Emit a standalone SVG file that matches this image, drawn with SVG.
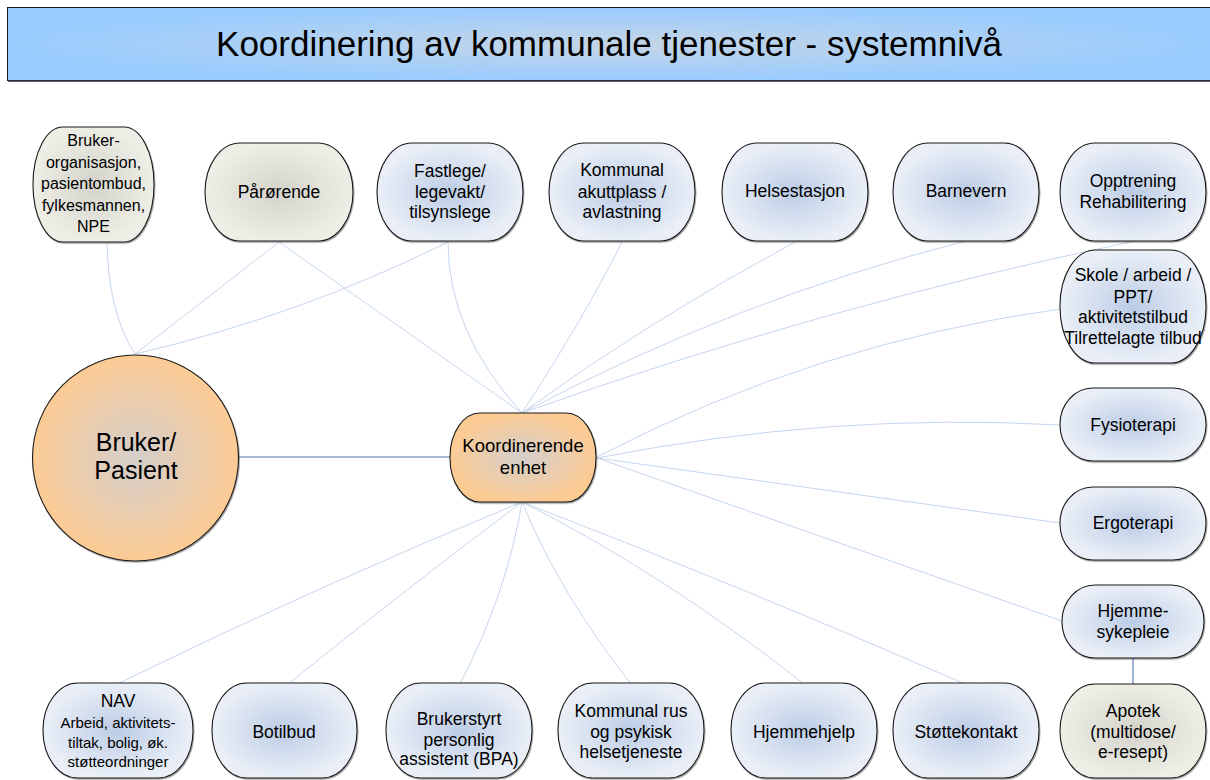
<svg xmlns="http://www.w3.org/2000/svg" width="1210" height="780" viewBox="0 0 1210 780">
  <defs>
    <radialGradient id="gBlue" cx="0.5" cy="0.5" r="0.5">
      <stop offset="0" stop-color="#bccce6"/>
      <stop offset="1" stop-color="#eaeff7"/>
    </radialGradient>
    <radialGradient id="gBeige" cx="0.5" cy="0.5" r="0.5">
      <stop offset="0" stop-color="#d3d3cc"/>
      <stop offset="1" stop-color="#eeeee6"/>
    </radialGradient>
    <radialGradient id="gOrange" cx="0.5" cy="0.5" r="0.5">
      <stop offset="0" stop-color="#d4cfcc"/>
      <stop offset="1" stop-color="#fccb94"/>
    </radialGradient>
    <radialGradient id="gTitle" cx="0.5" cy="0.5" r="0.5">
      <stop offset="0" stop-color="#c5d5e6"/>
      <stop offset="1" stop-color="#99ccff"/>
    </radialGradient>
    <filter id="shade" x="-5%" y="-5%" width="112%" height="115%">
      <feDropShadow dx="0.8" dy="1.2" stdDeviation="0.4" flood-color="#555" flood-opacity="0.6"/>
    </filter>
  </defs>
  <style>
    text { font-family: "Liberation Sans", Arial, sans-serif; fill: #000; text-anchor: middle; }
    .t { font-size: 17.5px; }
    .s { font-size: 15px; }
    .big { font-size: 25px; }
    .k { font-size: 18.5px; }
    .org { font-size: 16px; }
    .title { font-size: 35px; }
    .node { stroke: #1a1a1a; stroke-width: 1.1; filter: url(#shade); }
    .blue { fill: url(#gBlue); }
    .beige { fill: url(#gBeige); }
    .orange { fill: url(#gOrange); }
    .link { fill: none; stroke: #c6d6ee; stroke-width: 1; }
    .main { fill: none; stroke: #4f73b6; stroke-width: 1.1; }
  </style>

  <!-- title banner -->
  <g id="title">
    <rect x="7.5" y="7.5" width="1210" height="73" fill="url(#gTitle)" stroke="#1a1a1a" stroke-width="1"/>
    <line x1="8" y1="81" x2="1210" y2="81" stroke="#2a3340" stroke-width="1.5"/>
    <text class="title" x="609" y="56">Koordinering av kommunale tjenester - systemnivå</text>
  </g>

  <!-- connectors -->
  <g id="connectors">
    <!-- to Bruker/Pasient -->
    <path class="link" d="M107,242 Q108,312 135,354"/>
    <path class="link" d="M279,242 L135,354"/>
    <path class="link" d="M448,242 Q299,316 135,354"/>
    <!-- top row to Koordinerende enhet -->
    <path class="link" d="M279,242 L522,413"/>
    <path class="link" d="M448,242 Q448,332 522,413"/>
    <path class="link" d="M622,242 Q584,318 522,413"/>
    <path class="link" d="M795,242 Q650,320 522,413"/>
    <path class="link" d="M966,241 Q734,300 522,413"/>
    <path class="link" d="M1135,241 Q822,306 522,413"/>
    <!-- right column -->
    <path class="link" d="M1060,309 Q815,343 597,457"/>
    <path class="link" d="M1060,425 Q832,412 597,458"/>
    <path class="link" d="M1060,523 L597,458"/>
    <path class="link" d="M1062,621 L597,458"/>
    <!-- bottom row -->
    <path class="link" d="M522,502 Q320,585 117,684"/>
    <path class="link" d="M522,502 Q410,586 288,684"/>
    <path class="link" d="M522,502 Q507,593 460,684"/>
    <path class="link" d="M522,502 Q560,594 631,684"/>
    <path class="link" d="M522,502 Q663,573 804,684"/>
    <path class="link" d="M522,502 Q745,588 965,684"/>
    <!-- direct links -->
    <line class="main" x1="239" y1="457" x2="450" y2="457"/>
    <line class="main" x1="1133" y1="658" x2="1133" y2="684"/>
  </g>

  <!-- centre -->
  <g id="bruker-pasient">
    <ellipse class="node orange" cx="135.5" cy="458" rx="103" ry="103"/>
    <text class="big" x="136" y="451">Bruker/</text>
    <text class="big" x="136" y="479">Pasient</text>
  </g>
  <g id="koordinerende-enhet">
    <rect class="node orange" x="450" y="413" width="146" height="89" rx="30" ry="44"/>
    <text class="k" x="523" y="452">Koordinerende</text>
    <text class="k" x="523" y="474">enhet</text>
  </g>

  <!-- top row -->
  <g id="brukerorganisasjon">
    <rect class="node beige" x="33" y="127" width="121" height="115" rx="30" ry="57"/>
    <text class="org" x="93.5" y="146">Bruker-</text>
    <text class="org" x="93.5" y="167.5">organisasjon,</text>
    <text class="org" x="93.5" y="189">pasientombud,</text>
    <text class="org" x="93.5" y="210.5">fylkesmannen,</text>
    <text class="org" x="93.5" y="232">NPE</text>
  </g>
  <g id="parorende">
    <rect class="node beige" x="205" y="143" width="148" height="98" rx="35" ry="49"/>
    <text class="t" x="279" y="198">Pårørende</text>
  </g>
  <g id="fastlege">
    <rect class="node blue" x="377" y="143" width="146" height="98" rx="35" ry="49"/>
    <text class="t" x="450" y="177">Fastlege/</text>
    <text class="t" x="450" y="198">legevakt/</text>
    <text class="t" x="450" y="218">tilsynslege</text>
  </g>
  <g id="akuttplass">
    <rect class="node blue" x="549" y="143" width="146" height="98" rx="35" ry="49"/>
    <text class="t" x="622" y="176">Kommunal</text>
    <text class="t" x="622" y="198">akuttplass /</text>
    <text class="t" x="622" y="218">avlastning</text>
  </g>
  <g id="helsestasjon">
    <rect class="node blue" x="722" y="143" width="146" height="98" rx="35" ry="49"/>
    <text class="t" x="795" y="197">Helsestasjon</text>
  </g>
  <g id="barnevern">
    <rect class="node blue" x="893" y="143" width="146" height="98" rx="35" ry="49"/>
    <text class="t" x="966" y="197">Barnevern</text>
  </g>
  <g id="opptrening">
    <rect class="node blue" x="1060" y="143" width="146" height="98" rx="35" ry="49"/>
    <text class="t" x="1133" y="187">Opptrening</text>
    <text class="t" x="1133" y="208">Rehabilitering</text>
  </g>

  <!-- right column -->
  <g id="skole">
    <rect class="node blue" x="1060" y="250" width="146" height="113" rx="35" ry="56"/>
    <text class="t" x="1133" y="281">Skole / arbeid /</text>
    <text class="t" x="1133" y="303">PPT/</text>
    <text class="t" x="1133" y="323">aktivitetstilbud</text>
    <text class="t" x="1133" y="344">Tilrettelagte tilbud</text>
  </g>
  <g id="fysioterapi">
    <rect class="node blue" x="1060" y="388" width="146" height="73" rx="33" ry="36"/>
    <text class="t" x="1133" y="431">Fysioterapi</text>
  </g>
  <g id="ergoterapi">
    <rect class="node blue" x="1060" y="487" width="146" height="73" rx="33" ry="36"/>
    <text class="t" x="1133" y="529">Ergoterapi</text>
  </g>
  <g id="hjemmesykepleie">
    <rect class="node blue" x="1062" y="585" width="142" height="73" rx="33" ry="36"/>
    <text class="t" x="1133" y="617">Hjemme-</text>
    <text class="t" x="1133" y="638">sykepleie</text>
  </g>
  <g id="apotek">
    <rect class="node beige" x="1060" y="684" width="146" height="94" rx="35" ry="47"/>
    <text class="t" x="1133" y="717">Apotek</text>
    <text class="t" x="1133" y="738">(multidose/</text>
    <text class="t" x="1133" y="758">e-resept)</text>
  </g>

  <!-- bottom row -->
  <g id="nav">
    <rect class="node blue" x="43" y="683" width="150" height="95" rx="35" ry="47"/>
    <text class="t" x="118" y="707">NAV</text>
    <text class="s" x="118" y="728">Arbeid, aktivitets-</text>
    <text class="s" x="118" y="748">tiltak, bolig, øk.</text>
    <text class="s" x="118" y="767">støtteordninger</text>
  </g>
  <g id="botilbud">
    <rect class="node blue" x="212" y="683" width="145" height="95" rx="35" ry="47"/>
    <text class="t" x="284" y="738">Botilbud</text>
  </g>
  <g id="bpa">
    <rect class="node blue" x="386" y="683" width="146" height="95" rx="35" ry="47"/>
    <text class="t" x="459" y="725">Brukerstyrt</text>
    <text class="t" x="459" y="746">personlig</text>
    <text class="t" x="459" y="765">assistent (BPA)</text>
  </g>
  <g id="rus-psykisk">
    <rect class="node blue" x="558" y="683" width="146" height="95" rx="35" ry="47"/>
    <text class="t" x="631" y="717">Kommunal rus</text>
    <text class="t" x="631" y="738">og psykisk</text>
    <text class="t" x="631" y="758">helsetjeneste</text>
  </g>
  <g id="hjemmehjelp">
    <rect class="node blue" x="731" y="683" width="146" height="95" rx="35" ry="47"/>
    <text class="t" x="804" y="738">Hjemmehjelp</text>
  </g>
  <g id="stottekontakt">
    <rect class="node blue" x="893" y="683" width="146" height="95" rx="35" ry="47"/>
    <text class="t" x="966" y="738">Støttekontakt</text>
  </g>
</svg>
